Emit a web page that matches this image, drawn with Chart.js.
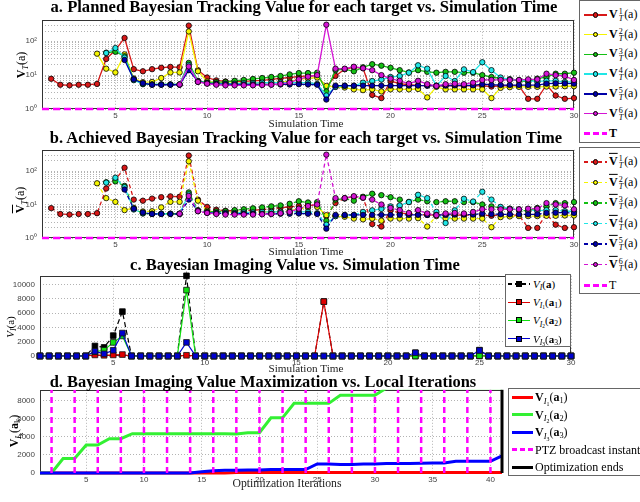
<!DOCTYPE html>
<html>
<head>
<meta charset="utf-8">
<script src="https://cdn.jsdelivr.net/npm/chart.js@4.4.0/dist/chart.umd.min.js"></script>
<style>
  body { margin:0; width:640px; height:502px; position:relative; overflow:hidden; background:#fff; font-family:'Liberation Serif', serif; color:#000; }
  canvas { position:absolute; left:0; }
  .ttl { position:absolute; transform:translateX(-50%); font-weight:bold; font-size:15px; line-height:1; white-space:nowrap; }
  .xl { position:absolute; transform:translateX(-50%); font-size:11px; line-height:1; white-space:nowrap; color:#222; }
  .yl { position:absolute; transform:translate(-50%,-50%) rotate(-90deg); font-size:12px; line-height:1; white-space:nowrap; }
  .lg { position:absolute; box-sizing:border-box; border:1px solid #666; background:#fff; }
  .ln, .mk { position:absolute; box-sizing:border-box; }
  .lt { position:absolute; transform:translateY(-50%); font-size:12px; line-height:1; white-space:nowrap; }
  sub { font-size:70%; line-height:0; vertical-align:-0.3em; }
  .ss { display:inline-flex; flex-direction:column; font-size:8px; line-height:7px; vertical-align:middle; margin:0 1px; }
</style>
</head>
<body>
<canvas id="chartPlanned"></canvas>
<canvas id="chartAchieved"></canvas>
<canvas id="chartImaging"></canvas>
<canvas id="chartMaximize"></canvas>

<div class="ttl" data-w="507" style="left:304px;top:-1px">a. Planned Bayesian Tracking Value for each target vs. Simulation Time</div>
<div class="ttl" data-w="513" style="left:306px;top:130px">b. Achieved Bayesian Tracking Value for each target vs. Simulation Time</div>
<div class="ttl" data-w="330" style="left:295px;top:257px">c. Bayesian Imaging Value vs. Simulation Time</div>
<div class="ttl" data-w="427" style="left:263px;top:374px">d. Bayesian Imaging Value Maximization vs. Local Iterations</div>

<div class="xl" data-w="75" style="left:306px;top:118px">Simulation Time</div>
<div class="xl" data-w="75" style="left:306px;top:246px">Simulation Time</div>
<div class="xl" data-w="75" style="left:306px;top:363px">Simulation Time</div>
<div class="xl" data-w="109" style="left:287px;top:478px">Optimization Iterations</div>

<div class="yl" style="left:21px;top:65px"><b>V</b><sub><i>T</i></sub>(a)</div>
<div class="yl" style="left:20px;top:200px"><b style="text-decoration:overline">V</b><sub><i>T</i></sub>(a)</div>
<div class="yl" style="left:10px;top:327px;font-size:11px"><i>V</i><sub><i>I</i></sub>(a)</div>
<div class="yl" style="left:14px;top:431px"><b>V</b><sub><i>I</i><sub>k</sub></sub>(<b>a</b><sub>k</sub>)</div>

<script>
// ---- data ----
const simTimePlan = [1.5,2,2.5,3,3.5,4,4.5,5,5.5,6,6.5,7,7.5,8,8.5,9,9.5,10,10.5,11,11.5,12,12.5,13,13.5,14,14.5,15,15.5,16,16.5,17,17.5,18,18.5,19,19.5,20,20.5,21,21.5,22,22.5,23,23.5,24,24.5,25,25.5,26,26.5,27,27.5,28,28.5,29,29.5,30];
const simTimeImg = [1,1.5,2,2.5,3,3.5,4,4.5,5,5.5,6,6.5,7,7.5,8,8.5,9,9.5,10,10.5,11,11.5,12,12.5,13,13.5,14,14.5,15,15.5,16,16.5,17,17.5,18,18.5,19,19.5,20,20.5,21,21.5,22,22.5,23,23.5,24,24.5,25,25.5,26,26.5,27,27.5,28,28.5,29,29.5,30];
const iterations = [1,2,3,4,5,6,7,8,9,10,11,12,13,14,15,16,17,18,19,20,21,22,23,24,25,26,27,28,29,30,31,32,33,34,35,36,37,38,39,40,41];

const simRange = [1, 30];
const iterRange = [1, 41];
const thresholdT = 1;
const simTicks = [5, 10, 15, 20, 25, 30];
const iterTicks = [5, 10, 15, 20, 25, 30, 35, 40];
const logTicks = [1,2,3,4,5,6,7,8,9,10,20,30,40,50,60,70,80,90,100,200,300,400];
const logLabels = {1: '10⁰', 10: '10¹', 100: '10²'};
const logRange = [1, 430];
const imgTicks = [0, 2000, 4000, 6000, 8000, 10000];
const imgRange = [0, 11200];
const maxTicks = [0, 2000, 4000, 6000, 8000];
const maxRange = [0, 9200];

// a. planned tracking value, targets 1..6
const plannedV1 = [7.8,5.2,5.0,5.2,5.2,5.5,30,55,125,15, 13,15,16.5,17.5,17,290,14,8.5,7,6.5, 6.5,6.5,6.8,7,7.5,8,8.5,9,9.5,9.5, 4.5,9.5,15,17,16,2.6,2.1,6.7,5.6,5.2, 5,4.9,4.8,4.8,4.8,4.8,4.8,4.8,4.6,4.8, 4.8,4.8,2,2,5.2,2.5,2,2.1];
const plannedV2 = [null,null,null,null,null,43,15.5,12,41,8, 6.2,6.3,8.2,12,12,195,13,6.5,6,5.8, 5.8,5.8,5.8,6,6,6.2,6.5,7.5,8,8.5, 4.8,4.5,4.3,3.8,3.6,3.8,3.3,3.8,3.8,3.8, 3.9,2.2,4.5,3.8,3.8,3.8,3.8,3.8,2.1,4.2, 4.4,4.5,4.5,4.5,4.6,4.6,4.7,4.7];
const plannedV3 = [null,null,null,null,null,null,46,49,36,7.5, 5.4,5.3,5.3,5.3,5.3,23,6.8,6,6.2,6.3, 6.8,7.2,7.7,8.2,8.8,9.4,10.5,11.5,11.5,11.8, 3.3,14,15,13,17,21,19,16.5,14,12, 14,12.5,11.8,12.5,12.5,11.8,11.8,10,8.8,8, 7.5,6.8,6.4,7.9,8.8,11,11,11.8];
const plannedV4 = [null,null,null,null,null,null,45,63,33,7.1, 5.5,5.3,5.3,5.3,5.3,20,6.4,5.8,5.6,5.6, 5.6,5.8,5.8,6,6,6,6,6,6,5.5, 2.5,4.5,4.8,4.8,6,6.7,7.4,8.8,9.4,11.8, 19.5,15.5,4.8,9.4,6.7,14.8,12.3,24,14,8.5, 7.5,7.1,6.8,6.5,6.8,6.8,6.3,6.3];
const plannedV5 = [null,null,null,null,null,null,null,null,28,7.5, 5.8,5.2,5.2,5.2,5.2,14,6.5,5.7,5.5,5.4, 5.3,5.3,5.3,5.3,5.3,5.3,5.3,5.4,5.3,5.2, 1.9,4.9,4.9,4.9,4.9,4.9,4.9,4.9,4.9,4.9, 4.9,4.9,4.9,4.9,5,5,5,5.4,5.2,5.1, 5.1,5.1,5.1,5.1,5.6,5.7,5.7,5.6];
const plannedV6 = [null,null,null,null,null,null,null,null,null,null, null,null,null,null,5.3,18,6.3,5.6,5.2,5, 5,5,5,5.1,5.2,5.5,6,7.5,9,10, 308,15.5,15.5,17.7,16,14,10,7.9,6.8,5.6, 6.8,5.4,4.8,5.4,5.6,5.4,6,7.2,7.2,7.2, 7.2,7.2,7.5,7.5,11,10,9.4,7.2];

// b. achieved tracking value, targets 1..6
const achievedV1 = [7.8,5.2,5.0,5.2,5.2,5.5,30,55,125,14, 13,15,16.5,17.5,17,290,14,8.5,7,6.5, 6.5,6.5,6.8,7,7.5,8,8.5,9,9.5,9.5, 4.5,11,15.5,17,16,2.6,2.2,6.7,5.6,5.2, 5,4.9,4.8,4.8,4.8,4.8,4.8,4.8,4.6,4.8, 4.8,4.8,2,2,5.2,2.5,2,2.1];
const achievedV2 = [null,null,null,null,null,43,15.5,12,6.8,8, 6.2,6.3,8.2,12,12,195,13,6.5,6,5.8, 5.8,5.8,5.8,6,6,6.2,6.5,7.5,8,8.5, 4.8,4.5,4.3,3.8,3.6,3.8,3.3,3.8,3.8,3.8, 3.9,2.2,4.5,3.8,3.8,3.8,3.8,3.8,2.1,4.2, 4.4,4.5,4.5,4.5,4.6,4.6,4.7,4.7];
const achievedV3 = [null,null,null,null,null,null,46,49,36,7.5, 5.4,5.3,5.3,5.3,5.3,23,6.8,6,6.2,6.3, 6.8,7.2,7.7,8.2,8.8,9.4,10.5,12.5,11.5,11.8, 3.3,14,15,13,17,21,19,16.5,14,12, 14,12.5,11.8,12.5,12.5,11.8,11.8,10,8.8,8, 7.5,6.8,6.4,7.9,8.8,11,11,11.8];
const achievedV4 = [null,null,null,null,null,null,45,63,33,7.1, 5.5,5.3,5.3,5.3,5.3,20,6.4,5.8,5.6,5.6, 5.6,5.8,5.8,6,6,6,6,6,6,5.5, 2.5,4.5,4.8,4.8,6,6.7,7.4,8.8,9.4,11.8, 19.5,15.5,6,2.8,6.7,14.8,12.3,24,14,8.5, 7.5,7.1,6.8,6.5,6.8,6.8,6.3,6.3];
const achievedV5 = [null,null,null,null,null,null,null,null,28,7.5, 5.8,5.2,5.2,5.2,5.2,14,6.5,5.7,5.5,5.4, 5.3,5.3,5.3,5.3,5.3,5.3,5.3,5.4,5.3,5.2, 1.9,4.9,4.9,4.9,4.9,4.9,4.9,4.9,4.9,4.9, 4.9,4.9,4.9,4.9,5,5,5,5.4,5.2,5.1, 5.1,5.1,5.1,5.1,5.6,5.7,5.7,5.6];
const achievedV6 = [null,null,null,null,null,null,null,null,null,null, null,null,null,null,5.3,18,6.3,5.6,5.2,5, 5,5,5,5.1,5.2,5.5,6,7.5,9,10, 308,15.5,15.5,17.7,16,14,10,7.9,6.8,5.6, 6.8,5.4,4.8,5.4,5.6,5.4,6,7.2,7.2,7.2, 7.2,7.2,7.5,7.5,11,10,9.4,7.2];

// c. imaging value per simulation time
const imagingTotal = [0,0,0,0,0,0,1400,1200,2850,6200, 0,0,0,0,0,0,11200,0,0,0, 0,0,0,0,0,0,0,0,0,0, 0,7600,0,0,0,0,0,0,0,0, 0,450,0,0,0,0,0,0,820,0, 0,0,0,0,0,0,0,0,0];
const imagingI1 = [0,0,0,0,0,0,150,100,150,200, 0,0,0,0,0,0,100,0,0,0, 0,0,0,0,0,0,0,0,0,0, 0,7600,0,0,0,0,0,0,0,0, 0,0,0,0,0,0,0,0,0,0, 0,0,0,0,0,0,0,0,0];
const imagingI2 = [0,0,0,0,0,0,600,800,1900,2800, 0,0,0,0,0,0,9200,0,0,0, 0,0,0,0,0,0,0,0,0,0, 0,0,0,0,0,0,0,0,0,0, 0,0,0,0,0,0,0,0,50,0, 0,0,0,0,0,0,0,0,0];
const imagingI3 = [0,0,0,0,0,0,650,300,800,3200, 0,0,0,0,0,0,1900,0,0,0, 0,0,0,0,0,0,0,0,0,0, 0,0,0,0,0,0,0,0,0,0, 0,450,0,0,0,0,0,0,770,0, 0,0,0,0,0,0,0,0,0];

// d. imaging value vs optimization iterations
const maxI1 = [0,0,0,0,0,0,0,0,0,0, 0,0,0,0,0,0,0,60,60,60, 60,60,60,60,60,60,60,60,60,60, 60,60,60,60,60,60,60,60,60,60, 60];
const maxI2 = [0,0,1600,1600,3100,3100,3800,3800,4350,4350, 4350,4350,4350,4350,4350,4350,4350,4300,4450,4450, 6100,6100,7700,7700,7700,7700,8600,8600,8600,8600, 9400,9400,9400,9400,9400,9400,9400,9400,9400,9400, 9400];
const maxI3 = [0,0,0,0,0,0,0,0,0,0, 0,0,0,0,150,250,300,300,320,330, 380,400,400,380,1000,1000,950,950,1000,1000, 1050,1050,1050,1080,1100,1100,1300,1300,1300,1300, 1900];
const broadcastIters = [2,4,6,8,10,12,14,16,18,20,22,24,26,28,30,32,34,36,38,40];
const optimizationEnd = [41];

const plannedSeries = [plannedV1, plannedV2, plannedV3, plannedV4, plannedV5, plannedV6];
const achievedSeries = [achievedV1, achievedV2, achievedV3, achievedV4, achievedV5, achievedV6];

// ---- styles ----
const trackColors = ['#d81818', '#f4f400', '#14c014', '#20e6e6', '#0000a8', '#d414d4'];
const imgColors = ['#000000', '#e00000', '#10e010', '#0000d0'];
const maxColors = ['#ff0000', '#33f033', '#0000ff'];
const tickFont = {family: 'Liberation Sans', size: 8};

const areas = {
    planned:  {l: 42, t: 18,  r: 574, b: 109},
    achieved: {l: 42, t: 148, r: 574, b: 238},
    imaging:  {l: 40, t: 274, r: 571, b: 356},
    maximize: {l: 40, t: 388, r: 502, b: 473}
};

const pts = (xs, ys) => xs.map((x, i) => ({x, y: ys[i]}));

const boxPlugin = {
    id: 'box',
    beforeDatasetsDraw(chart) {
        const {ctx, chartArea: a} = chart;
        ctx.save();
        ctx.strokeStyle = '#333';
        ctx.lineWidth = 1;
        ctx.strokeRect(Math.round(a.left) + 0.5, Math.round(a.top) + 0.5,
            Math.round(a.right - a.left) - 1, Math.round(a.bottom - a.top) - 1);
        ctx.restore();
    }
};

function setupCanvas(id, area) {
    const c = document.getElementById(id);
    c.width = 640;
    c.height = area.b - area.t + 28;
    c.style.width = '640px';
    c.style.height = c.height + 'px';
    c.style.top = (area.t - 8) + 'px';
    return c;
}

function chartOptions(area, xRange, xTicks, y) {
    const grid = {color: '#a0a0a0', lineWidth: 0.8, drawTicks: false};
    const border = {display: false, dash: [1, 2]};
    return {
        responsive: false, animation: false, events: [],
        layout: {padding: {top: 8, right: 640 - area.r, bottom: 0, left: 0}},
        plugins: {legend: {display: false}, tooltip: {enabled: false}},
        scales: {
            x: {
                type: 'linear', min: xRange[0], max: xRange[1],
                afterBuildTicks: s => { s.ticks = xTicks.map(v => ({value: v})); },
                afterFit: s => { s.height = 20; },
                grid, border,
                ticks: {font: tickFont, color: '#444', padding: 2, maxRotation: 0, autoSkip: false}
            },
            y: {
                type: y.type, min: y.range[0], max: y.range[1],
                afterBuildTicks: s => { s.ticks = y.ticks.map(v => ({value: v})); },
                afterFit: s => { s.width = area.l; },
                grid, border,
                ticks: {font: tickFont, color: '#444', padding: 5, autoSkip: false, callback: y.label}
            }
        }
    };
}

function trackSets(series, dash) {
    const sets = series.map((ys, i) => ({
        data: pts(simTimePlan, ys),
        borderColor: trackColors[i],
        backgroundColor: trackColors[i],
        pointBackgroundColor: trackColors[i],
        pointBorderColor: '#000',
        pointBorderWidth: 0.8,
        pointRadius: 2.7,
        borderWidth: 1.3,
        borderDash: dash,
        order: series.length - i,
        clip: false
    }));
    sets.push({
        data: simRange.map(x => ({x, y: thresholdT})),
        borderColor: '#ff00ff', borderWidth: 2.5, borderDash: [7, 4],
        pointRadius: 0, order: -1, clip: false
    });
    return sets;
}

const logY = {type: 'logarithmic', range: logRange, ticks: logTicks, label: v => logLabels[v] || ''};

new Chart(setupCanvas('chartPlanned', areas.planned), {
    type: 'line',
    data: {datasets: trackSets(plannedSeries, [])},
    options: chartOptions(areas.planned, simRange, simTicks, logY),
    plugins: [boxPlugin]
});

new Chart(setupCanvas('chartAchieved', areas.achieved), {
    type: 'line',
    data: {datasets: trackSets(achievedSeries, [4, 3])},
    options: chartOptions(areas.achieved, simRange, simTicks, logY),
    plugins: [boxPlugin]
});

const imagingSets = [imagingTotal, imagingI1, imagingI2, imagingI3].map((ys, i) => ({
    data: pts(simTimeImg, ys),
    borderColor: imgColors[i],
    pointBackgroundColor: imgColors[i],
    pointBorderColor: i === 0 ? '#000' : '#111',
    pointBorderWidth: 0.8,
    pointStyle: 'rect',
    pointRadius: 4,
    borderWidth: 1.2,
    borderDash: i === 0 ? [5, 3] : [],
    order: 4 - i,
    clip: false
}));

new Chart(setupCanvas('chartImaging', areas.imaging), {
    type: 'line',
    data: {datasets: imagingSets},
    options: chartOptions(areas.imaging, simRange, simTicks,
        {type: 'linear', range: imgRange, ticks: imgTicks, label: v => String(v)}),
    plugins: [boxPlugin]
});

const topClip = {left: false, right: false, top: 0, bottom: false};
const maximizeSets = [maxI1, maxI2, maxI3].map((ys, i) => ({
    data: pts(iterations, ys),
    borderColor: maxColors[i],
    borderWidth: 3,
    pointRadius: 0,
    order: 3 - i,
    clip: topClip
}));
broadcastIters.forEach(it => maximizeSets.push({
    data: maxRange.map(y => ({x: it, y})),
    borderColor: '#ff00ff', borderWidth: 2.5, borderDash: [6, 4],
    pointRadius: 0, order: -1, clip: topClip
}));
optimizationEnd.forEach(it => maximizeSets.push({
    data: maxRange.map(y => ({x: it, y})),
    borderColor: '#000', borderWidth: 3,
    pointRadius: 0, order: -2, clip: false
}));

new Chart(setupCanvas('chartMaximize', areas.maximize), {
    type: 'line',
    data: {datasets: maximizeSets},
    options: chartOptions(areas.maximize, iterRange, iterTicks,
        {type: 'linear', range: maxRange, ticks: maxTicks, label: v => String(v)}),
    plugins: [boxPlugin]
});

// ---- legends (HTML) ----
function legend(box, rows) {
    const el = document.createElement('div');
    el.className = 'lg';
    el.style.cssText = `left:${box.l}px;top:${box.t}px;width:${box.r - box.l}px;height:${box.b - box.t}px`;
    document.body.appendChild(el);
    rows.forEach((row, i) => {
        const y = box.y0 + i * box.dy;
        const ln = document.createElement('div');
        ln.className = 'ln';
        const fill = row.dash
            ? `repeating-linear-gradient(90deg, ${row.color} 0 ${row.dash[0]}px, transparent ${row.dash[0]}px ${row.dash[0] + row.dash[1]}px)`
            : row.color;
        ln.style.cssText = `left:${box.x0}px;top:${y - row.w / 2}px;width:${box.x1 - box.x0}px;height:${row.w}px;background:${fill}`;
        document.body.appendChild(ln);
        if (row.mark) {
            const s = row.mark === 'rect' ? 6 : 5.5;
            const mk = document.createElement('div');
            mk.className = 'mk';
            mk.style.cssText = `left:${(box.x0 + box.x1) / 2 - s / 2}px;top:${y - s / 2}px;width:${s}px;height:${s}px;` +
                `background:${row.color};border:0.8px solid #000;border-radius:${row.mark === 'circle' ? '50%' : '0'}`;
            document.body.appendChild(mk);
        }
        const tx = document.createElement('div');
        tx.className = 'lt';
        tx.innerHTML = row.html;
        tx.style.left = box.tx + 'px';
        tx.style.top = y + 'px';
        if (row.size) tx.style.fontSize = row.size + 'px';
        document.body.appendChild(tx);
    });
}

const trackLabel = (i, bar) =>
    `<b${bar ? ' style="text-decoration:overline"' : ''}>V</b><span class="ss"><span>${i}</span><i>T</i></span>(a)`;

legend({l: 579, t: 0, r: 650, b: 143, y0: 15, dy: 19.7, x0: 584, x1: 607, tx: 609},
    trackColors.map((c, i) => ({color: c, w: 1.5, mark: 'circle', html: trackLabel(i + 1, false)}))
        .concat([{color: '#ff00ff', w: 3, dash: [6, 3], html: '<b>T</b>'}]));

legend({l: 579, t: 147, r: 650, b: 294, y0: 162, dy: 20.5, x0: 584, x1: 607, tx: 609},
    trackColors.map((c, i) => ({color: c, w: 1.5, dash: [4, 3], mark: 'circle', html: trackLabel(i + 1, true)}))
        .concat([{color: '#ff00ff', w: 3, dash: [6, 3], html: 'T'}]));

legend({l: 505, t: 274, r: 571, b: 347, y0: 284, dy: 18.2, x0: 508, x1: 530, tx: 533}, [
    {color: '#000', w: 1.2, dash: [4, 3], mark: 'rect', size: 11, html: '<i>V</i><sub><i>I</i></sub>(<b>a</b>)'},
    {color: imgColors[1], w: 1.2, mark: 'rect', size: 11, html: '<i>V</i><sub><i>I</i><sub>1</sub></sub>(<b>a</b><sub>1</sub>)'},
    {color: imgColors[2], w: 1.2, mark: 'rect', size: 11, html: '<i>V</i><sub><i>I</i><sub>2</sub></sub>(<b>a</b><sub>2</sub>)'},
    {color: imgColors[3], w: 1.2, mark: 'rect', size: 11, html: '<i>V</i><sub><i>I</i><sub>3</sub></sub>(<b>a</b><sub>3</sub>)'}
]);

legend({l: 508, t: 388, r: 650, b: 476, y0: 397, dy: 17.5, x0: 512, x1: 533, tx: 535}, [
    {color: maxColors[0], w: 3, size: 12, html: '<b>V</b><sub><i>I</i><sub>1</sub></sub>(<b>a</b><sub>1</sub>)'},
    {color: maxColors[1], w: 3, size: 12, html: '<b>V</b><sub><i>I</i><sub>2</sub></sub>(<b>a</b><sub>2</sub>)'},
    {color: maxColors[2], w: 3, size: 12, html: '<b>V</b><sub><i>I</i><sub>3</sub></sub>(<b>a</b><sub>3</sub>)'},
    {color: '#ff00ff', w: 3, dash: [5, 3], size: 12, html: 'PTZ broadcast instant'},
    {color: '#000', w: 3, size: 12, html: 'Optimization ends'}
]);

// fit title / label widths to the reference
document.querySelectorAll('[data-w]').forEach(el => {
    const w = el.getBoundingClientRect().width;
    const fs = parseFloat(getComputedStyle(el).fontSize);
    el.style.fontSize = (fs * Number(el.dataset.w) / w) + 'px';
});
</script>
</body>
</html>
